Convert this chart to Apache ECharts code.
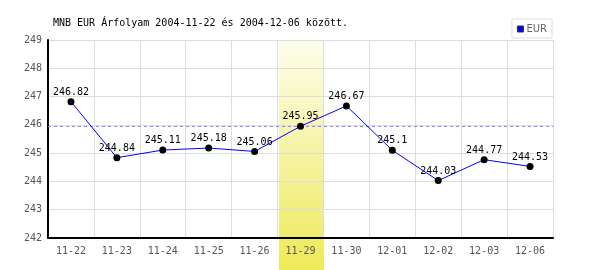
<!DOCTYPE html>
<html><head><meta charset="utf-8">
<script src="https://cdn.jsdelivr.net/npm/echarts@6/dist/echarts.min.js"></script>
<style>html,body{margin:0;padding:0;background:#fff}#c{width:600px;height:270px}</style>
</head><body><div id="c"></div>
<script>
const categories = ['11-22','11-23','11-24','11-25','11-26','11-29','11-30','12-01','12-02','12-03','12-06'];
const values = [246.82,244.84,245.11,245.18,245.06,245.95,246.67,245.1,244.03,244.77,244.53];
const valueLabels = ['246.82','244.84','245.11','245.18','245.06','245.95','246.67','245.1','244.03','244.77','244.53'];
const highlightCategory = '11-29';
const referenceValue = 245.95;
const yTicks = [242,243,244,245,246,247,248,249];
const seriesName = 'EUR';
const titleText = 'MNB EUR Árfolyam 2004-11-22 és 2004-12-06 között.';

const mono = '"DejaVu Sans Mono", "Liberation Mono", monospace';
const chart = echarts.init(document.getElementById('c'), null, {renderer:'canvas'});
chart.setOption({
  animation:false,
  title:{text:titleText, left:48, top:13, textStyle:{fontFamily:mono, fontSize:10, fontWeight:'normal', color:'#000'}},
  legend:{right:48, top:19, orient:'horizontal', backgroundColor:'#fff', borderColor:'#ddd', borderWidth:1, padding:[5,5,4,5],
    icon:'rect', itemWidth:6, itemHeight:6, itemGap:4,
    data:[{name:seriesName, itemStyle:{color:'#0000ff', borderColor:'#333', borderWidth:1}}],
    textStyle:{fontFamily:'"DejaVu Sans", sans-serif', fontSize:10, color:'#666', padding:[0,0,0,-2]}},
  grid:{left:48, right:47, top:40, bottom:32},
  xAxis:{type:'category', data:categories, boundaryGap:true,
    axisLine:{lineStyle:{color:'#000', width:2}}, axisTick:{show:false},
    axisLabel:{fontFamily:mono, fontSize:10, color:'#555', margin:8},
    splitLine:{show:true, lineStyle:{color:'#ddd', width:1}}},
  yAxis:{type:'value', min:yTicks[0], max:yTicks[yTicks.length-1], interval:1,
    axisLine:{show:true, lineStyle:{color:'#000', width:2}}, axisTick:{show:false},
    axisLabel:{fontFamily:mono, fontSize:10, color:'#555', margin:6},
    splitLine:{lineStyle:{color:'#ddd', width:1}}},
  series:[{name:seriesName, type:'line', data:values, symbol:'circle', symbolSize:7,
    lineStyle:{color:'#0000ff', width:1}, itemStyle:{color:'#000'},
    label:{show:true, position:'top', distance:1, fontFamily:mono, fontSize:10, color:'#000',
      formatter:p=>valueLabels[p.dataIndex]},
    markLine:{silent:true, symbol:'none', label:{show:false},
      lineStyle:{color:'#8888ff', type:[3,3], width:1}, data:[{yAxis:referenceValue}]},
    z:5}]
});
const idx = categories.indexOf(highlightCategory);
const cx = chart.convertToPixel({xAxisIndex:0}, idx);
const cx1 = chart.convertToPixel({xAxisIndex:0}, idx+1);
const w = cx1 - cx;
const yTop = chart.convertToPixel({yAxisIndex:0}, yTicks[yTicks.length-1]);
chart.setOption({graphic:[{type:'rect', z:-10, silent:true,
  shape:{x:Math.round(cx - w/2)+1, y:yTop, width:Math.round(w)-1, height:270-yTop},
  style:{fill:new echarts.graphic.LinearGradient(0,0,0,1,[{offset:0,color:'#fdfdec'},{offset:1,color:'#eeea58'}])}}]});
</script></body></html>
